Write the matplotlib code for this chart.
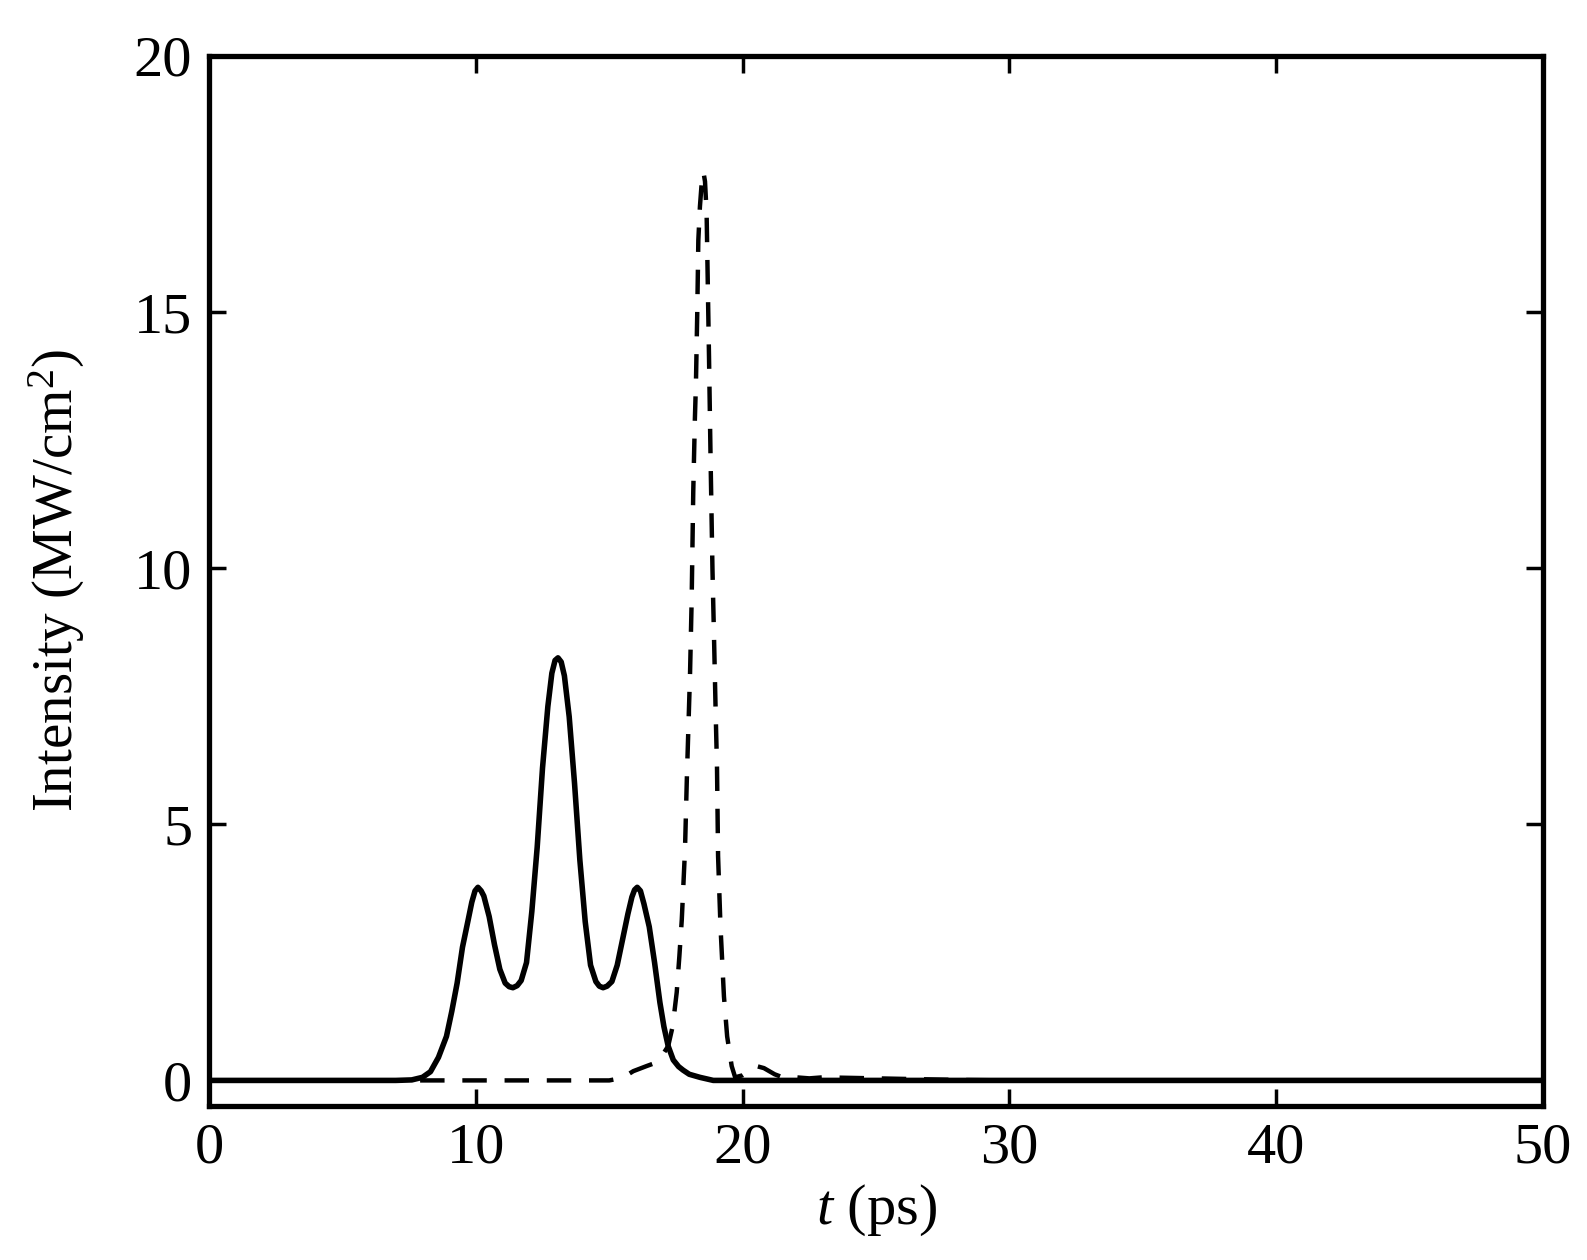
import matplotlib
matplotlib.use("Agg")
import matplotlib.pyplot as plt

plt.rcParams['font.family'] = ['Liberation Serif', 'DejaVu Serif']
plt.rcParams['mathtext.fontset'] = 'custom'
plt.rcParams['mathtext.rm'] = 'Liberation Serif'
plt.rcParams['mathtext.it'] = 'Liberation Serif:italic'

# solid pulse
t_solid = [0, 7.0, 7.6, 8.0, 8.3, 8.6, 8.9, 9.1, 9.3, 9.5, 9.7, 9.85, 9.97, 10.08, 10.2,
           10.3, 10.5, 10.7, 10.9, 11.1, 11.25, 11.39, 11.55, 11.7, 11.9, 12.1, 12.3,
           12.5, 12.7, 12.85, 12.97, 13.08, 13.2, 13.32, 13.5, 13.7, 13.9, 14.1, 14.3,
           14.5, 14.63, 14.77, 14.92, 15.1, 15.3, 15.5, 15.7, 15.85, 15.95, 16.05,
           16.17, 16.3, 16.5, 16.7, 16.9, 17.05, 17.21, 17.4, 17.6, 17.77, 18.0,
           18.4, 18.9, 50]
I_solid = [0, 0, 0.01, 0.06, 0.17, 0.45, 0.86, 1.35, 1.9, 2.6, 3.1, 3.48, 3.7, 3.77, 3.7,
           3.6, 3.2, 2.65, 2.17, 1.9, 1.83, 1.81, 1.85, 1.95, 2.3, 3.3, 4.55,
           6.1, 7.3, 7.95, 8.2, 8.25, 8.17, 7.9, 7.1, 5.8, 4.3, 3.1, 2.25,
           1.93, 1.84, 1.81, 1.84, 1.93, 2.25, 2.75, 3.25, 3.58, 3.72, 3.77,
           3.7, 3.45, 3.0, 2.3, 1.52, 1.05, 0.67, 0.4, 0.27, 0.2, 0.12,
           0.06, 0.0, 0]

# dashed pulse
t_dash = [0, 15.0, 15.5, 15.9, 16.4, 16.77, 17.0, 17.21, 17.38, 17.53, 17.63, 17.72,
          17.84, 17.91, 18.03, 18.09, 18.15, 18.21, 18.25, 18.3, 18.34, 18.4, 18.47,
          18.53, 18.59, 18.65, 18.74, 18.8, 18.87, 18.93, 18.99, 19.04, 19.08, 19.17,
          19.3, 19.42, 19.59, 19.72, 20.0, 20.3, 20.52, 20.8, 21.2, 21.6, 22.0, 22.5,
          23.0, 24.0, 25.0, 26.0, 27.0, 28.0, 30.0, 50]
I_dash = [0, 0, 0.05, 0.18, 0.28, 0.35, 0.5, 0.67, 1.06, 1.72, 2.43, 3.14,
          4.5, 5.9, 7.96, 9.38, 11.5, 12.9, 13.6, 15.0, 16.4, 17.06, 17.55,
          17.74, 17.55, 16.94, 14.13, 12.1, 9.97, 8.6, 7.18, 6.1, 4.38, 3.01,
          1.64, 0.86, 0.28, 0.06, 0.1, 0.2, 0.28, 0.24, 0.12, 0.04, 0.06, 0.04,
          0.06, 0.05, 0.04, 0.03, 0.02, 0.01, 0, 0]

xticks = [0, 10, 20, 30, 40, 50]
yticks = [0, 5, 10, 15, 20]

fig = plt.figure(figsize=(15.87, 12.6), dpi=100)
ax = fig.add_axes([0.1317, 0.1222, 0.8406, 0.8334])

ax.plot(t_solid, I_solid, color='black', lw=4, solid_joinstyle='round')
ax.plot(t_dash, I_dash, color='black', lw=3.2, dashes=(5.5, 4))

ax.set_xlim(0, 50)
ax.set_ylim(-0.5, 20)
ax.set_xticks(xticks)
ax.set_yticks(yticks)
ax.tick_params(direction='in', length=12, width=2.5, labelsize=42,
               top=True, right=True, pad=12)
for s in ax.spines.values():
    s.set_linewidth(3.8)

ax.set_xlabel(r'$\mathit{t}$ (ps)', fontsize=42, labelpad=6)
ax.set_ylabel(r'Intensity (MW/cm$^2$)', fontsize=41, labelpad=34)

fig.savefig('out.png', dpi=100)
